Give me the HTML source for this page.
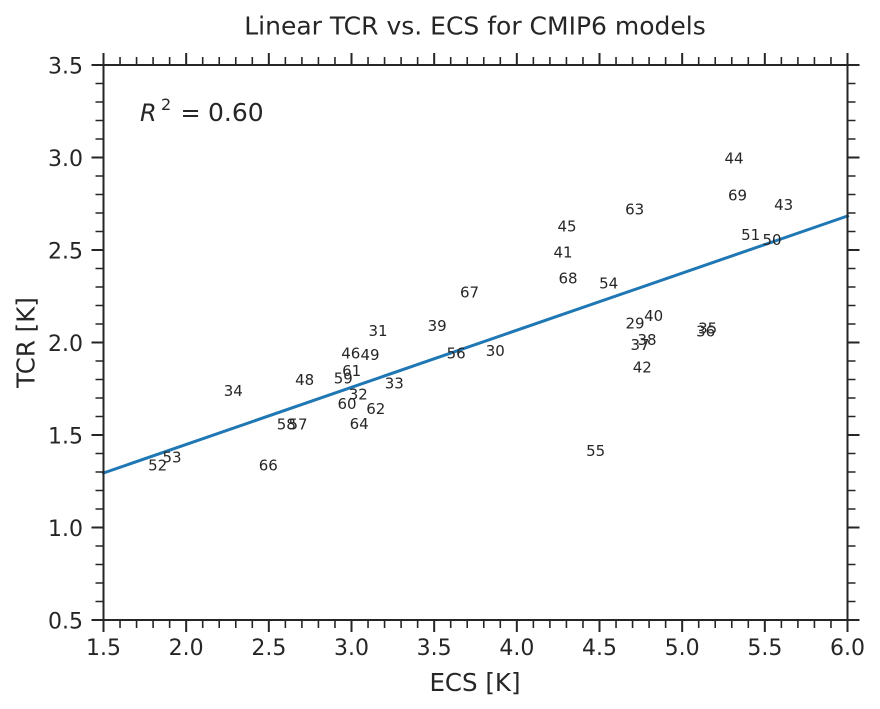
<!DOCTYPE html>
<html><head><meta charset="utf-8"><style>
html,body{margin:0;padding:0;background:#fff;}
svg{display:block;}
text{font-family:"DejaVu Sans","Liberation Sans",sans-serif;fill:#262626;}
</style></head><body>
<svg width="880" height="709" viewBox="0 0 880 709" xmlns="http://www.w3.org/2000/svg">
<rect width="880" height="709" fill="#fff"/>
<text x="475" y="34.5" font-size="25" text-anchor="middle">Linear TCR vs. ECS for CMIP6 models</text>

<!-- regression line -->
<line x1="103.5" y1="473" x2="847.5" y2="216" stroke="#1f77b4" stroke-width="3" stroke-linecap="square"/>

<!-- annotations -->
<g font-size="15" text-anchor="middle">
<text x="378" y="336">31</text>
<text x="350.8" y="358.3">46</text>
<text x="370" y="360">49</text>
<text x="351.7" y="376">61</text>
<text x="343.3" y="383.3">59</text>
<text x="304.7" y="385">48</text>
<text x="394.3" y="388.3">33</text>
<text x="233.3" y="396">34</text>
<text x="358.3" y="399.3">32</text>
<text x="347" y="409">60</text>
<text x="375.8" y="414">62</text>
<text x="286.3" y="429.3">58</text>
<text x="298" y="429.3">57</text>
<text x="359.2" y="429">64</text>
<text x="172" y="462.7">53</text>
<text x="157.7" y="470.3">52</text>
<text x="268.3" y="470.3">66</text>
<text x="634.7" y="214.3">63</text>
<text x="567" y="231.7">45</text>
<text x="563" y="257.7">41</text>
<text x="568" y="283.3">68</text>
<text x="608.7" y="288.3">54</text>
<text x="469.5" y="297.7">67</text>
<text x="437.2" y="331">39</text>
<text x="635" y="328.3">29</text>
<text x="653.7" y="321">40</text>
<text x="647" y="345">38</text>
<text x="640" y="350">37</text>
<text x="456.2" y="358.3">56</text>
<text x="495.3" y="356">30</text>
<text x="642.3" y="372.7">42</text>
<text x="707.7" y="333.3">35</text>
<text x="705.7" y="336.7">36</text>
<text x="595.7" y="456">55</text>
<text x="734" y="163.3">44</text>
<text x="737.5" y="200.7">69</text>
<text x="783.7" y="210">43</text>
<text x="750.7" y="240">51</text>
<text x="772" y="245">50</text>
</g>

<!-- R^2 -->
<text x="140" y="121" font-size="24" font-style="italic">R</text>
<text x="161" y="110" font-size="16">2</text>
<text x="180.5" y="121" font-size="24">=</text>
<text x="208" y="121" font-size="25">0.60</text>

<!-- spines -->
<rect x="103.5" y="65" width="744" height="555" fill="none" stroke="#262626" stroke-width="2"/>

<!-- major ticks -->
<path stroke="#262626" stroke-width="2" fill="none" d="
M103.5 620v12M186.17 620v12M268.83 620v12M351.5 620v12M434.17 620v12M516.83 620v12M599.5 620v12M682.17 620v12M764.83 620v12M847.5 620v12
M103.5 65v-12M186.17 65v-12M268.83 65v-12M351.5 65v-12M434.17 65v-12M516.83 65v-12M599.5 65v-12M682.17 65v-12M764.83 65v-12M847.5 65v-12
M103.5 620h-12M103.5 527.5h-12M103.5 435h-12M103.5 342.5h-12M103.5 250h-12M103.5 157.5h-12M103.5 65h-12
M847.5 620h12M847.5 527.5h12M847.5 435h12M847.5 342.5h12M847.5 250h12M847.5 157.5h12M847.5 65h12"/>

<!-- minor ticks -->
<path stroke="#262626" stroke-width="1.6" fill="none" d="
M120.03 620v8M136.57 620v8M153.1 620v8M169.63 620v8
M202.7 620v8M219.23 620v8M235.77 620v8M252.3 620v8
M285.37 620v8M301.9 620v8M318.43 620v8M334.97 620v8
M368.03 620v8M384.57 620v8M401.1 620v8M417.63 620v8
M450.7 620v8M467.23 620v8M483.77 620v8M500.3 620v8
M533.37 620v8M549.9 620v8M566.43 620v8M582.97 620v8
M616.03 620v8M632.57 620v8M649.1 620v8M665.63 620v8
M698.7 620v8M715.23 620v8M731.77 620v8M748.3 620v8
M781.37 620v8M797.9 620v8M814.43 620v8M830.97 620v8
M120.03 65v-8M136.57 65v-8M153.1 65v-8M169.63 65v-8
M202.7 65v-8M219.23 65v-8M235.77 65v-8M252.3 65v-8
M285.37 65v-8M301.9 65v-8M318.43 65v-8M334.97 65v-8
M368.03 65v-8M384.57 65v-8M401.1 65v-8M417.63 65v-8
M450.7 65v-8M467.23 65v-8M483.77 65v-8M500.3 65v-8
M533.37 65v-8M549.9 65v-8M566.43 65v-8M582.97 65v-8
M616.03 65v-8M632.57 65v-8M649.1 65v-8M665.63 65v-8
M698.7 65v-8M715.23 65v-8M731.77 65v-8M748.3 65v-8
M781.37 65v-8M797.9 65v-8M814.43 65v-8M830.97 65v-8
M103.5 601.5h-8M103.5 583h-8M103.5 564.5h-8M103.5 546h-8
M103.5 509h-8M103.5 490.5h-8M103.5 472h-8M103.5 453.5h-8
M103.5 416.5h-8M103.5 398h-8M103.5 379.5h-8M103.5 361h-8
M103.5 324h-8M103.5 305.5h-8M103.5 287h-8M103.5 268.5h-8
M103.5 231.5h-8M103.5 213h-8M103.5 194.5h-8M103.5 176h-8
M103.5 139h-8M103.5 120.5h-8M103.5 102h-8M103.5 83.5h-8
M847.5 601.5h8M847.5 583h8M847.5 564.5h8M847.5 546h8
M847.5 509h8M847.5 490.5h8M847.5 472h8M847.5 453.5h8
M847.5 416.5h8M847.5 398h8M847.5 379.5h8M847.5 361h8
M847.5 324h8M847.5 305.5h8M847.5 287h8M847.5 268.5h8
M847.5 231.5h8M847.5 213h8M847.5 194.5h8M847.5 176h8
M847.5 139h8M847.5 120.5h8M847.5 102h8M847.5 83.5h8"/>

<!-- x tick labels -->
<g font-size="22" text-anchor="middle">
<text x="103.5" y="655">1.5</text>
<text x="186.17" y="655">2.0</text>
<text x="268.83" y="655">2.5</text>
<text x="351.5" y="655">3.0</text>
<text x="434.17" y="655">3.5</text>
<text x="516.83" y="655">4.0</text>
<text x="599.5" y="655">4.5</text>
<text x="682.17" y="655">5.0</text>
<text x="764.83" y="655">5.5</text>
<text x="847.5" y="655">6.0</text>
</g>
<!-- y tick labels -->
<g font-size="22" text-anchor="end">
<text x="83" y="628.3">0.5</text>
<text x="83" y="535.8">1.0</text>
<text x="83" y="443.3">1.5</text>
<text x="83" y="350.8">2.0</text>
<text x="83" y="258.3">2.5</text>
<text x="83" y="165.8">3.0</text>
<text x="83" y="73.3">3.5</text>
</g>

<text x="475" y="691" font-size="24.5" text-anchor="middle">ECS [K]</text>
<text transform="translate(34.3,342.5) rotate(-90)" font-size="24.5" text-anchor="middle">TCR [K]</text>
</svg>
</body></html>
